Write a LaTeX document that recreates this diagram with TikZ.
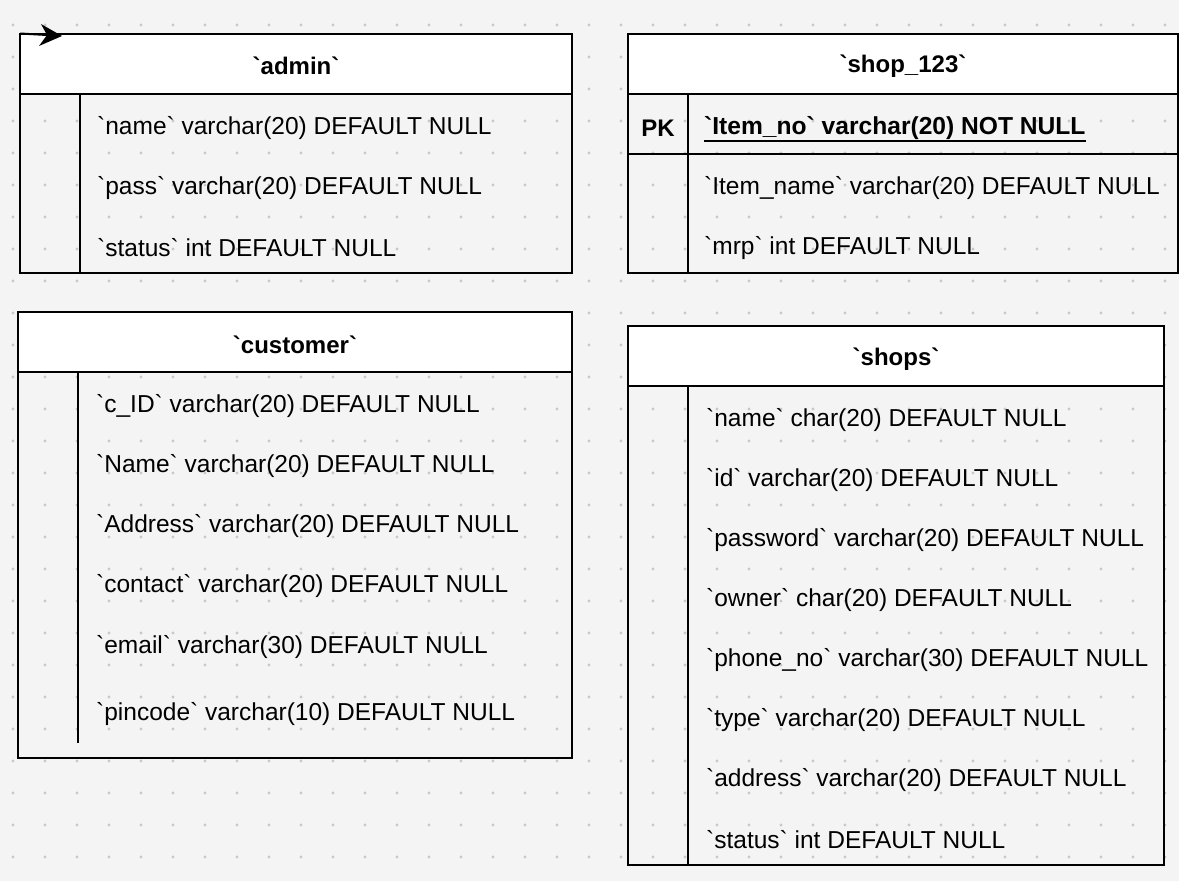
\documentclass[tikz,border=0pt]{standalone}
\usepackage{fontspec}
\setmainfont{Liberation Sans}[Ligatures=TeXReset]
\usetikzlibrary{arrows.meta}
\definecolor{bg}{RGB}{244,244,244}
\definecolor{dotc}{RGB}{200,200,200}
\newcommand\gq{\char96\relax}
\tikzset{
  frame/.style={draw=black, line width=2pt},
  head/.style={draw=black, line width=2pt, fill=white},
  sep/.style={draw=black, line width=2pt},
  field/.style={anchor=west, inner sep=0pt, font=\fontsize{24.5}{28}\selectfont},
  title/.style={inner sep=0pt, font=\fontsize{24}{28}\selectfont\bfseries},
}
\begin{document}
\begin{tikzpicture}[x=1pt,y=-1pt]
\useasboundingbox (0,0) rectangle (1179,881);
\fill[bg] (0,0) rectangle (1179,881);
\foreach \i in {0,...,36}{
  \foreach \j in {0,...,26}{
    \fill[dotc] ({13+32*\i},{25+32*\j}) circle (1.6);
  }
}
% admin
\draw[head] (20,34) rectangle (572,94);
\draw[frame] (20,94) rectangle (572,273);
\draw[sep] (80,94) -- (80,273);
\node[title] (adminT) at (296,66) {\gq admin\gq};
\node[field] (a1) at (97,128) {\gq name\gq{} varchar(20) DEFAULT NULL};
\node[field] (a2) at (97,188) {\gq pass\gq{} varchar(20) DEFAULT NULL};
\node[field] (a3) at (97,248) {\gq status\gq{} int DEFAULT NULL};
\coordinate (arS) at (20,33.5);
\coordinate (arE) at (62,36);
\coordinate (arN) at (47,35);
\coordinate (arT) at (41,24);
\coordinate (arB) at (39,46);
\draw[line width=2pt] (arS) -- (arN);
\fill[black] (arE) -- (arT) -- (arN) -- (arB) -- cycle;
% shop_123
\draw[head] (628,34) rectangle (1178,94);
\draw[frame] (628,94) rectangle (1178,273);
\draw[sep] (628,154) -- (1178,154);
\draw[sep] (688,94) -- (688,273);
\node[title] (shopT) at (903,66) {\gq shop\_123\gq};
\node[title] (pk) at (658,128) {PK};
\node[field, font=\fontsize{24.6}{28}\selectfont\bfseries] (s1) at (704,128) {\gq Item\_no\gq{} varchar(20) NOT NULL};
\draw[line width=1.5pt] ([yshift=-13pt]s1.west) -- ([yshift=-13pt]s1.east);
\node[field] (s2) at (704,188) {\gq Item\_name\gq{} varchar(20) DEFAULT NULL};
\node[field] (s3) at (704,248) {\gq mrp\gq{} int DEFAULT NULL};
% customer
\draw[head] (18,312) rectangle (572,372);
\draw[frame] (18,372) rectangle (572,758);
\draw[sep] (78,372) -- (78,743);
\node[title] (custT) at (295,345) {\gq customer\gq};
\node[field] (c1) at (96,406) {\gq c\_ID\gq{} varchar(20) DEFAULT NULL};
\node[field] (c2) at (96,466) {\gq Name\gq{} varchar(20) DEFAULT NULL};
\node[field] (c3) at (96,526) {\gq Address\gq{} varchar(20) DEFAULT NULL};
\node[field] (c4) at (96,586) {\gq contact\gq{} varchar(20) DEFAULT NULL};
\node[field] (c5) at (96,647) {\gq email\gq{} varchar(30) DEFAULT NULL};
\node[field] (c6) at (96,714) {\gq pincode\gq{} varchar(10) DEFAULT NULL};
% shops
\draw[head] (628,326) rectangle (1164,386);
\draw[frame] (628,386) rectangle (1164,865);
\draw[sep] (688,386) -- (688,865);
\node[title] (shopsT) at (896,359) {\gq shops\gq};
\node[field] (h1) at (706,420) {\gq name\gq{} char(20) DEFAULT NULL};
\node[field] (h2) at (706,480) {\gq id\gq{} varchar(20) DEFAULT NULL};
\node[field] (h3) at (706,540) {\gq password\gq{} varchar(20) DEFAULT NULL};
\node[field] (h4) at (706,600) {\gq owner\gq{} char(20) DEFAULT NULL};
\node[field] (h5) at (706,660) {\gq phone\_no\gq{} varchar(30) DEFAULT NULL};
\node[field] (h6) at (706,720) {\gq type\gq{} varchar(20) DEFAULT NULL};
\node[field] (h7) at (706,780) {\gq address\gq{} varchar(20) DEFAULT NULL};
\node[field] (h8) at (706,840) {\gq status\gq{} int DEFAULT NULL};
\end{tikzpicture}
\end{document}
